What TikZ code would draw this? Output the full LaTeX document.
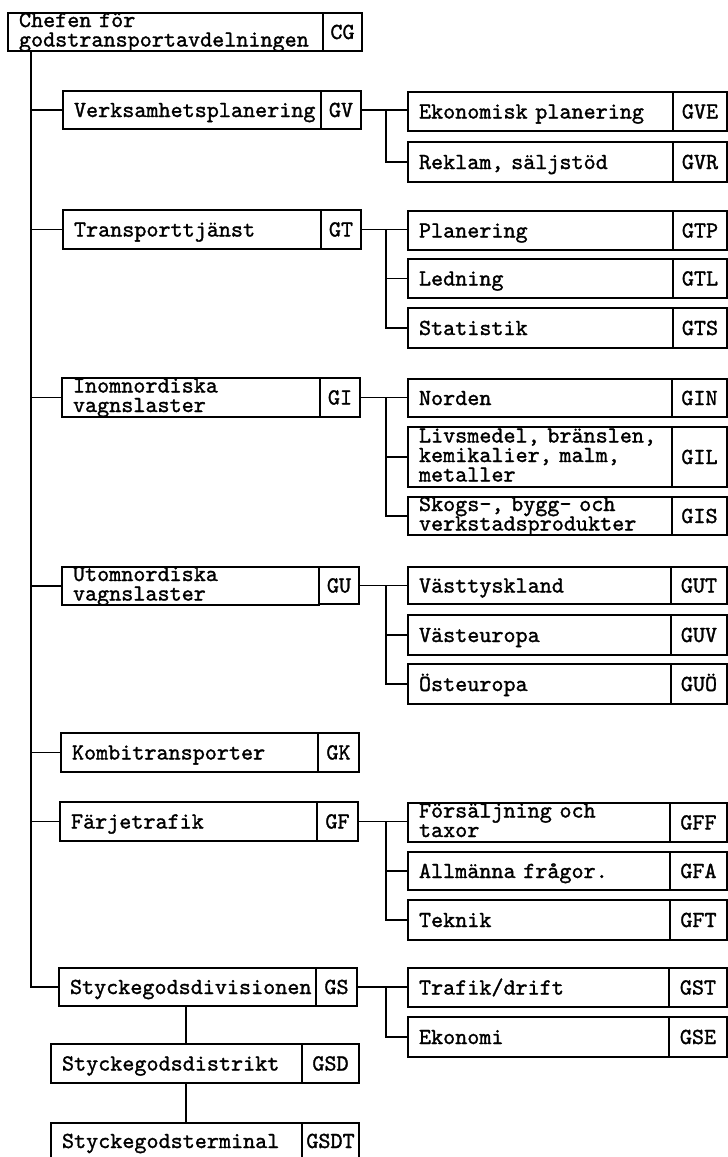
\documentclass[tikz,border=0pt]{standalone}
\usepackage{fontspec}
\newfontfamily\twfont[FakeBold=1.3]{lmmono10-regular.otf}
\usetikzlibrary{calc}
\tikzset{
  box/.style={draw, line width=1.3pt, rectangle, anchor=north west, inner xsep=11pt, inner ysep=0pt,
    font=\twfont\fontsize{23}{19.5}\selectfont, align=left, text height=14pt, outer sep=0pt},
  codebox/.style={box, inner xsep=0pt, align=center},
  link/.style={line width=1.3pt},
}
% name, x1, xdiv, x2, ytop, ybot, text, code, text depth
\newcommand\ent[9]{%
  \pgfmathsetmacro\entw{#3-#2}%
  \pgfmathsetmacro\enth{#6-#5}%
  \pgfmathsetmacro\enttw{#3-#2-22}%
  \pgfmathsetmacro\entcw{#4-#3}%
  \node[box, minimum width=\entw pt, minimum height=\enth pt, text width=\enttw pt, text depth=#9pt] (#1) at (#2,-#5) {#7};
  \node[codebox, minimum width=\entcw pt, minimum height=\enth pt, text depth=0pt] (#1c) at (#3,-#5) {#8};
}
\begin{document}
\begin{tikzpicture}[x=1pt,y=1pt]
\useasboundingbox (0,0) rectangle (728,-1157);
% top
\ent{cg}{8}{323}{362}{13}{51}{Chefen för\\godstransportavdelningen}{CG}{24}
% left column
\ent{gv}{63}{321}{361}{91}{129}{Verksamhetsplanering}{GV}{0}
\ent{gt}{63}{321}{361}{210}{249}{Transporttjänst}{GT}{0}
\ent{gi}{62}{320}{360}{378}{417}{Inomnordiska\\vagnslaster}{GI}{24}
\ent{gu}{62}{319}{359}{567}{604}{Utomnordiska\\vagnslaster}{GU}{24}
\ent{gk}{61}{318}{359}{733}{772}{Kombitransporter}{GK}{0}
\ent{gf}{60}{317}{358}{802}{841}{Färjetrafik}{GF}{0}
\ent{gs}{59}{316}{357}{968}{1006}{Styckegodsdivisionen}{GS}{0}
% right column
\ent{gve}{408}{673}{727}{92}{131}{Ekonomisk planering}{GVE}{0}
\ent{gvr}{408}{673}{727}{142}{182}{Reklam, säljstöd}{GVR}{0}
\ent{gtp}{408}{673}{727}{211}{250}{Planering}{GTP}{0}
\ent{gtl}{408}{673}{727}{259}{298}{Ledning}{GTL}{0}
\ent{gts}{408}{673}{727}{308}{348}{Statistik}{GTS}{0}
\ent{gin}{408}{672}{727}{379}{417}{Norden}{GIN}{0}
\ent{gil}{408}{672}{727}{427}{487}{Livsmedel, bränslen,\\kemikalier, malm,\\metaller}{GIL}{43}
\ent{gis}{408}{672}{727}{497}{535}{Skogs-, bygg- och\\verkstadsprodukter}{GIS}{24}
\ent{gut}{408}{671}{727}{567}{604}{Västtyskland}{GUT}{0}
\ent{guv}{408}{671}{727}{615}{655}{Västeuropa}{GUV}{0}
\ent{guo}{408}{671}{727}{664}{704}{Östeuropa}{GUÖ}{0}
\ent{gff}{408}{670}{727}{803}{842}{Försäljning och\\taxor}{GFF}{24}
\ent{gfa}{408}{670}{727}{852}{890}{Allmänna frågor.}{GFA}{0}
\ent{gft}{408}{670}{727}{900}{940}{Teknik}{GFT}{0}
\ent{gst}{408}{669}{727}{968}{1007}{Trafik/drift}{GST}{0}
\ent{gse}{408}{669}{727}{1017}{1057}{Ekonomi}{GSE}{0}
% lower chain
\ent{gsd}{51}{302}{359}{1044}{1083}{Styckegodsdistrikt}{GSD}{0}
\ent{gsdt}{51}{302}{359}{1123}{1159}{Styckegodsterminal}{GSDT}{0}
% connectors
\coordinate (trunk) at (31,0);
\coordinate (bus) at (386,0);
\coordinate (dx) at (186,0);
\draw[link] (trunk |- cg.south) -- (trunk |- gs.west) -- (gs.west);
\foreach \n in {gv,gt,gi,gu,gk,gf} \draw[link] (trunk |- \n.west) -- (\n.west);
% GV
\draw[link] (gvc.east) -- (gvc.east -| gve.west);
\draw[link] (gvc.east -| bus) |- (gvr.west);
% GT
\draw[link] (gtc.east) -- (gtc.east -| gtp.west);
\draw[link] (gtc.east -| bus) |- (gts.west);
\draw[link] (bus |- gtl.west) -- (gtl.west);
% GI
\draw[link] (gic.east) -- (gic.east -| gin.west);
\draw[link] (gic.east -| bus) |- (gis.west);
\draw[link] (bus |- gil.west) -- (gil.west);
% GU
\draw[link] (guc.east) -- (guc.east -| gut.west);
\draw[link] (guc.east -| bus) |- (guo.west);
\draw[link] (bus |- guv.west) -- (guv.west);
% GF
\draw[link] (gfc.east) -- (gfc.east -| gff.west);
\draw[link] (gfc.east -| bus) |- (gft.west);
\draw[link] (bus |- gfa.west) -- (gfa.west);
% GS
\draw[link] (gsc.east) -- (gsc.east -| gst.west);
\draw[link] (gsc.east -| bus) |- (gse.west);
\draw[link] (dx |- gs.south) -- (dx |- gsd.north);
\draw[link] (dx |- gsd.south) -- (dx |- gsdt.north);
\end{tikzpicture}
\end{document}
